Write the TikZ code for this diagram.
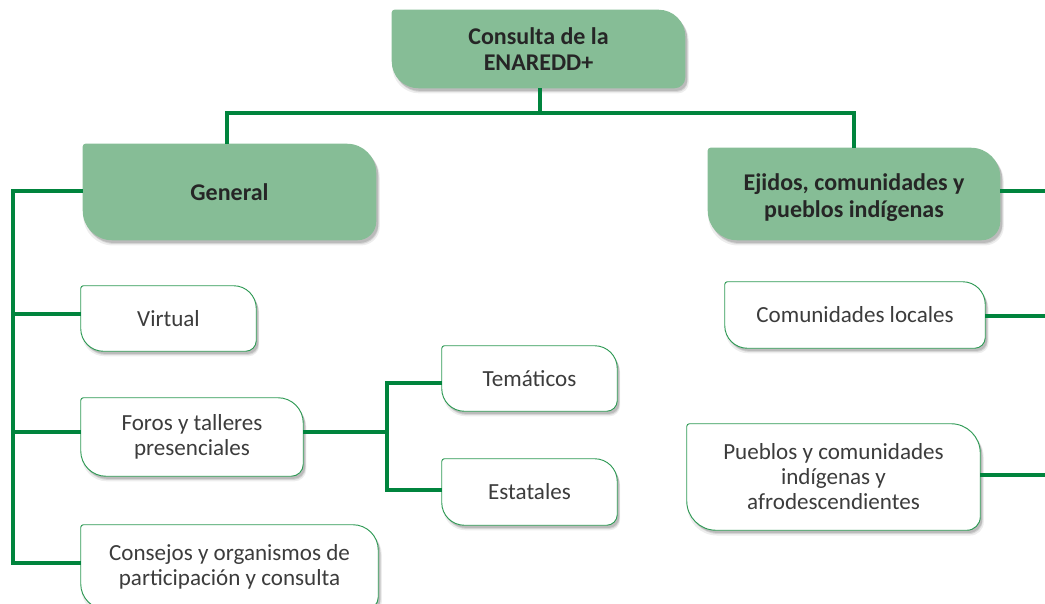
\documentclass[tikz,border=0pt]{standalone}
\usepackage{fontspec}
\setmainfont{Carlito}
\usetikzlibrary{shadows}
\definecolor{boxgreen}{HTML}{86BD96}
\definecolor{linegreen}{HTML}{00843D}
\definecolor{edgegreen}{HTML}{2F9A55}
\definecolor{txt}{HTML}{3C3C3C}
\pgfdeclarelayer{bg}
\pgfsetlayers{bg,main}
% #1 node, #2 big radius, #3 small radius, #4 style
\newcommand\leafshape[4]{%
  \path[#4] ([xshift=2pt]#1.north west) -- ([xshift=-#2]#1.north east)
    arc[start angle=90,end angle=0,radius=#2]
    -- ([yshift=#3]#1.south east)
    arc[start angle=0,end angle=-90,radius=#3]
    -- ([xshift=#2]#1.south west)
    arc[start angle=270,end angle=180,radius=#2]
    -- ([yshift=-2pt]#1.north west) arc[start angle=180,end angle=90,radius=2pt] -- cycle;}
\begin{document}
\begin{tikzpicture}[x=0.75pt,y=0.75pt,
  headtext/.style={font=\fontsize{18}{20}\selectfont\bfseries, text=black!85, align=center, inner sep=0pt},
  leaftext/.style={font=\fontsize{17.3}{18.75}\selectfont, text=txt, align=center, inner sep=0pt},
  wh/.style 2 args={minimum width=#1*0.75pt, minimum height=#2*0.75pt},
  conn/.style={draw=linegreen, line width=2.7pt},
  softshadow/.style={
    general shadow={fill=black, opacity=0.07, shadow xshift=1.5pt, shadow yshift=-3.5pt, shadow scale=1.01},
    general shadow={fill=black, opacity=0.10, shadow xshift=1.8pt, shadow yshift=-2.8pt},
    general shadow={fill=black, opacity=0.12, shadow xshift=1.5pt, shadow yshift=-2pt}},
  headfill/.style={fill=boxgreen, softshadow},
  leaffill/.style={fill=white, draw=edgegreen, line width=0.7pt, softshadow}]
\useasboundingbox (0,0) rectangle (1045,603);
\clip (0,0) rectangle (1045,603);

% head nodes
\node[headtext, wh={293}{78}] (top) at (538.5,554) {Consulta de la\\ENAREDD+};
\node[headtext, wh={293}{96}] (gen) at (229.5,411) {General};
\node[headtext, wh={292}{92}] (eji) at (854,409) {};
\node[headtext] (ejit) at ([yshift=-2.5pt]eji.center) {Ejidos, comunidades y\\pueblos indígenas};

% leaf nodes
\node[leaftext, wh={175}{65}] (virt) at (168.5,284.5) {Virtual};
\node[leaftext, wh={222}{78}] (foro) at (192,166) {Foros y talleres\\presenciales};
\node[leaftext, wh={297}{84}] (cons) at (229.5,36) {Consejos y organismos de\\participación y consulta};
\node[leaftext, wh={175}{65}] (tema) at (529.5,224.5) {Temáticos};
\node[leaftext, wh={175}{66}] (esta) at (529.5,111) {Estatales};
\node[leaftext, wh={260}{66}] (loca) at (855,288) {Comunidades locales};
\node[leaftext, wh={293}{106}] (pueb) at (833.5,126) {Pueblos y comunidades\\indígenas y\\afrodescendientes};

\begin{pgfonlayer}{bg}
\leafshape{top}{20pt}{8pt}{headfill}
\leafshape{gen}{22pt}{14pt}{headfill}
\leafshape{eji}{22pt}{14pt}{headfill}
\leafshape{virt}{17pt}{8pt}{leaffill}
\leafshape{foro}{19pt}{9pt}{leaffill}
\leafshape{cons}{19pt}{9pt}{leaffill}
\leafshape{tema}{17pt}{8pt}{leaffill}
\leafshape{esta}{17pt}{8pt}{leaffill}
\leafshape{loca}{17pt}{8pt}{leaffill}
\leafshape{pueb}{22pt}{10pt}{leaffill}
\end{pgfonlayer}

% connector anchor points
\coordinate (tb) at (540,490);
\coordinate (lb) at (13,412);
\coordinate (fb) at (387,171);
\coordinate (re) at (1046,0);
\coordinate (cv) at (virt.west |- 0,289);
\coordinate (cf) at (foro.west |- 0,171);
\coordinate (cc) at (cons.west |- 0,40);
\coordinate (ct) at (tema.west |- 0,220);
\coordinate (ce) at (esta.west |- 0,113);
\coordinate (cg) at (gen.west |- 0,412);
\coordinate (cfe) at (foro.east |- 0,171);
\coordinate (cj) at (eji.east |- 0,412);
\coordinate (cl) at (loca.east |- 0,287);
\coordinate (cp) at (pueb.east |- 0,128);

% connectors
\draw[conn] (top.south -| tb) -- (tb);
\draw[conn] (gen.north -| 227,0) |- (tb) -| (eji.north);
\draw[conn] (cg) -- (lb) |- (cc);
\draw[conn] (lb |- cv) -- (cv);
\draw[conn] (lb |- cf) -- (cf);
\draw[conn] (cfe) -- (fb);
\draw[conn] (ct) -| (fb) |- (ce);
\draw[conn] (cj) -- (cj -| re);
\draw[conn] (cl) -- (cl -| re);
\draw[conn] (cp) -- (cp -| re);
\end{tikzpicture}
\end{document}
